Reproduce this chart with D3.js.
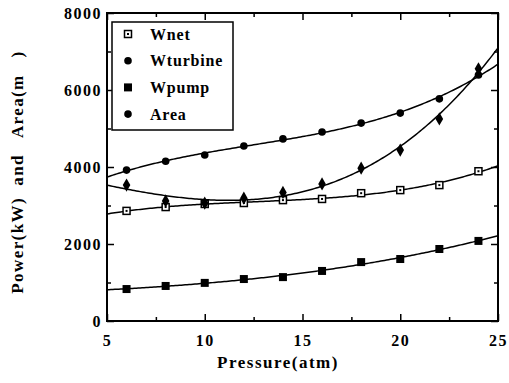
<!DOCTYPE html>
<html><head><meta charset="utf-8">
<script src="https://cdn.jsdelivr.net/npm/d3@7"></script>
<style>
html,body{margin:0;padding:0;background:#fff;}
text{font-family:"Liberation Serif","Times New Roman",serif;font-weight:bold;fill:#000;}
</style></head>
<body><svg id="c" width="509" height="383"></svg>
<script>
const pressure = [6, 8, 10, 12, 14, 16, 18, 20, 22, 24];
const wnet     = [2860, 2960, 3040, 3065, 3140, 3170, 3320, 3400, 3530, 3890];
const wturbine = [3920, 4150, 4310, 4545, 4730, 4910, 5140, 5400, 5770, 6390];
const wpump    = [830, 910, 990, 1090, 1140, 1300, 1530, 1610, 1870, 2080];
const area     = [3530, 3120, 3060, 3190, 3340, 3560, 3970, 4440, 5250, 6550];
const xTicks = [5, 10, 15, 20, 25];
const yTicks = [0, 2000, 4000, 6000, 8000];
const legendNames = ["Wnet", "Wturbine", "Wpump", "Area"];

const svg = d3.select("#c");
const L = 107, R = 498, T = 13, B = 321;
const x = d3.scaleLinear().domain([5, 25]).range([L, R]);
const y = d3.scaleLinear().domain([0, 8000]).range([B, T]);

// least squares polynomial fit (trend curves as in the original)
function polyfit(xs, ys, deg) {
  const n = deg + 1, c = 15;
  const A = Array.from({length: n}, () => new Array(n + 1).fill(0));
  xs.forEach((xv, k) => {
    const t = xv - c;
    for (let i = 0; i < n; i++) {
      for (let j = 0; j < n; j++) A[i][j] += Math.pow(t, i + j);
      A[i][n] += ys[k] * Math.pow(t, i);
    }
  });
  for (let i = 0; i < n; i++) {
    let p = i;
    for (let r = i + 1; r < n; r++) if (Math.abs(A[r][i]) > Math.abs(A[p][i])) p = r;
    [A[i], A[p]] = [A[p], A[i]];
    for (let r = 0; r < n; r++) if (r !== i) {
      const f = A[r][i] / A[i][i];
      for (let k = i; k <= n; k++) A[r][k] -= f * A[i][k];
    }
  }
  const coef = A.map((row, i) => row[n] / row[i]);
  return xv => coef.reduce((s, a, i) => s + a * Math.pow(xv - c, i), 0);
}

const series = [
  {vals: wnet, deg: 3, sym: "sq-open"},
  {vals: wturbine, deg: 3, sym: "circle"},
  {vals: wpump, deg: 3, sym: "sq"},
  {vals: area, deg: 3, sym: "diamond"}
];

svg.append("clipPath").attr("id", "clip")
  .append("rect").attr("x", L).attr("y", T).attr("width", R - L).attr("height", B - T);

const line = d3.line().x(d => x(d[0])).y(d => y(d[1])).curve(d3.curveLinear);
const samples = d3.range(5, 25.001, 0.1);
series.forEach(s => {
  const f = polyfit(pressure, s.vals, s.deg);
  svg.append("path").attr("clip-path", "url(#clip)")
    .attr("d", line(samples.map(v => [v, f(v)])))
    .attr("fill", "none").attr("stroke", "#000").attr("stroke-width", 1.5);
});

function drawMarker(g, sym, cx, cy) {
  if (sym === "sq-open") {
    g.append("rect").attr("x", cx - 3.5).attr("y", cy - 3.5).attr("width", 7).attr("height", 7)
      .attr("fill", "#fff").attr("stroke", "#000").attr("stroke-width", 1.5);
    g.append("rect").attr("x", cx - 1).attr("y", cy - 1).attr("width", 2).attr("height", 2).attr("fill", "#000");
  } else if (sym === "sq") {
    g.append("rect").attr("x", cx - 4).attr("y", cy - 4).attr("width", 8).attr("height", 8).attr("fill", "#000");
  } else if (sym === "circle") {
    g.append("circle").attr("cx", cx).attr("cy", cy).attr("r", 3.8).attr("fill", "#000");
  } else {
    g.append("path").attr("transform", `translate(${cx},${cy})`)
      .attr("d", d3.symbol(d3.symbolDiamond, 50)()).attr("fill", "#000");
  }
}
series.forEach(s => {
  const g = svg.append("g");
  pressure.forEach((p, i) => drawMarker(g, s.sym, x(p), y(s.vals[i])));
});

// frame
svg.append("rect").attr("x", L).attr("y", T).attr("width", R - L).attr("height", B - T)
  .attr("fill", "none").attr("stroke", "#000").attr("stroke-width", 2);

// axes with inward ticks
const xMinor = d3.range(7.5, 25, 5);
const yMinor = d3.range(1000, 8000, 2000);
const ax = [
  d3.axisBottom(x).tickValues(xTicks).tickSize(-7).tickPadding(14).tickFormat(d3.format("d")),
  d3.axisTop(x).tickValues(xTicks).tickSize(-7).tickFormat(""),
  d3.axisLeft(y).tickValues(yTicks).tickSize(-7).tickPadding(5).tickFormat(d3.format("d")),
  d3.axisRight(y).tickValues(yTicks).tickSize(-7).tickFormat("")
];
const pos = [`translate(0,${B})`, `translate(0,${T})`, `translate(${L},0)`, `translate(${R},0)`];
ax.forEach((a, i) => {
  const g = svg.append("g").attr("transform", pos[i]).call(a);
  g.select(".domain").remove();
  g.selectAll("line").attr("stroke-width", 1.5);
  g.selectAll("text").style("font-size", "16px").style("letter-spacing", "1.5px")
    .style("font-family", '"Liberation Serif",serif').style("font-weight", "bold");
});
const mx = [d3.axisBottom(x), d3.axisTop(x)].map(a => a.tickValues(xMinor).tickSize(-4).tickFormat(""));
const my = [d3.axisLeft(y), d3.axisRight(y)].map(a => a.tickValues(yMinor).tickSize(-4).tickFormat(""));
[[mx[0], pos[0]], [mx[1], pos[1]], [my[0], pos[2]], [my[1], pos[3]]].forEach(([a, p]) => {
  const g = svg.append("g").attr("transform", p).call(a);
  g.select(".domain").remove();
  g.selectAll("line").attr("stroke-width", 1.5);
});

// axis titles
svg.append("text").attr("x", 278).attr("y", 368).attr("text-anchor", "middle")
  .style("font-size", "17px").style("letter-spacing", "1.5px").text("Pressure(atm)");
svg.append("text").attr("transform", "translate(23,172) rotate(-90)").attr("text-anchor", "middle")
  .style("font-size", "17px").style("letter-spacing", "1.4px").style("white-space", "pre")
  .text("Power(kW)  and   Area(m   )");

// legend
svg.append("rect").attr("x", 112).attr("y", 22).attr("width", 121).attr("height", 108)
  .attr("fill", "#fff").attr("stroke", "#000").attr("stroke-width", 1.5);
const legSyms = ["sq-open", "circle", "sq", "circle"];
legendNames.forEach((n, i) => {
  const cy = 34 + i * 26.7;
  const g = svg.append("g");
  drawMarker(g, legSyms[i], 128, cy);
  g.append("text").attr("x", 150).attr("y", cy).attr("dy", "0.35em")
    .style("font-size", "16px").style("letter-spacing", "0.8px").text(n);
});
</script></body></html>
